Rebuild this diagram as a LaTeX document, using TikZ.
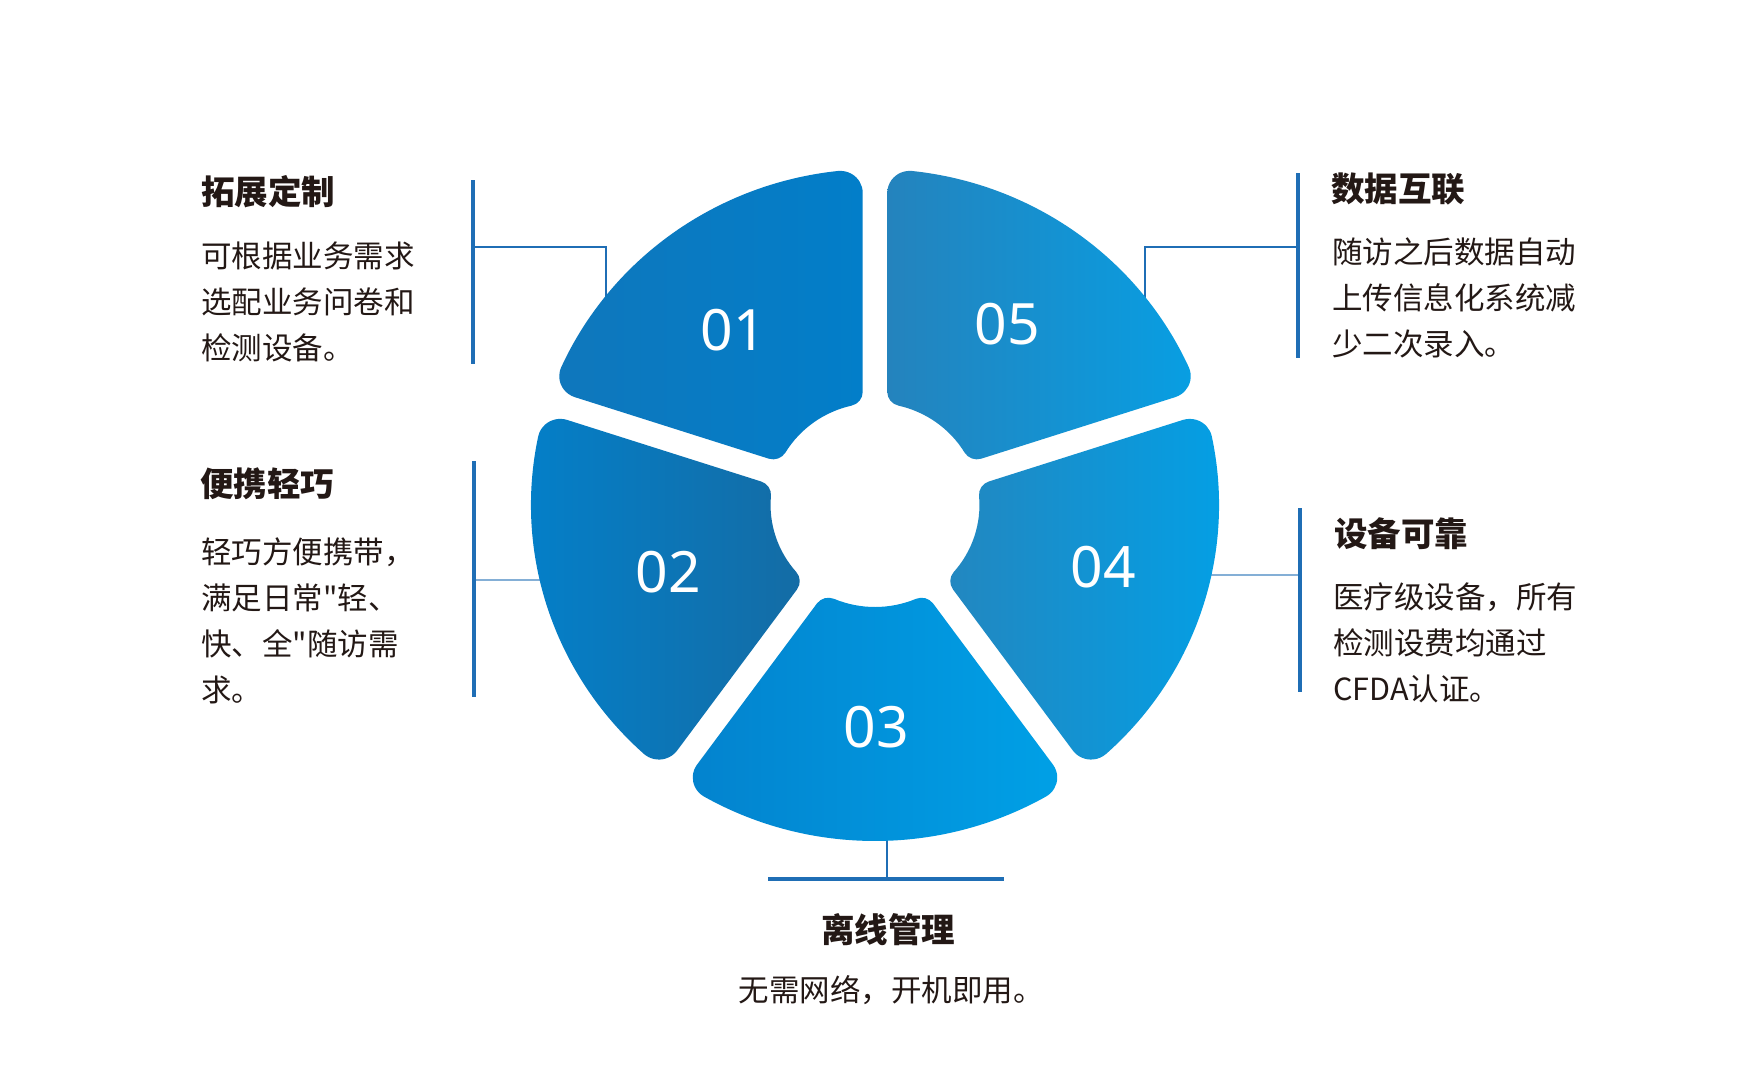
\documentclass[tikz,border=0pt]{standalone}
\usepackage{fontspec}
\usetikzlibrary{calc}
\newfontfamily\cjk{Noto Sans CJK SC}
\newfontfamily\numfont{Noto Sans}

\definecolor{linkblue}{RGB}{31,110,181}
\definecolor{inkdark}{RGB}{35,24,21}
\definecolor{c01a}{RGB}{15,119,188}
\definecolor{c01b}{RGB}{2,126,201}
\definecolor{c02a}{RGB}{3,128,202}
\definecolor{c02b}{RGB}{20,108,165}
\definecolor{c03a}{RGB}{3,131,206}
\definecolor{c03b}{RGB}{0,160,230}
\definecolor{c04a}{RGB}{34,135,192}
\definecolor{c04b}{RGB}{2,160,230}
\definecolor{c05a}{RGB}{36,131,189}
\definecolor{c05b}{RGB}{8,158,226}

\tikzstyle{heading}=[inner sep=0pt,anchor=north west,text=inkdark,font=\cjk\bfseries\fontsize{33.5}{40}\selectfont]
\tikzstyle{blurb}=[inner sep=0pt,anchor=north west,align=left,text=inkdark,font=\cjk\fontsize{30.5}{46}\selectfont]
\tikzstyle{number}=[inner sep=0pt,text=white,font=\numfont\fontsize{57}{60}\selectfont]
\tikzstyle{bar}=[draw=linkblue,line width=4.5pt]
\tikzstyle{link}=[draw=linkblue,line width=1.3pt]

% ring sizes
\def\Rout{336}
\def\Rin{102}
\def\halfgap{12}
\def\filo{22}
\def\fili{14}

% one rounded ring piece: #1 centre angle, #2 shading
\newcommand\petal[2]{%
  \pgfmathsetmacro\aone{#1-36}%
  \pgfmathsetmacro\atwo{#1+36}%
  \pgfmathsetmacro\dout{asin((\halfgap+\filo)/(\Rout-\filo))}%
  \pgfmathsetmacro\din{asin((\halfgap+\fili)/(\Rin+\fili))}%
  \shade[#2] (\aone+\dout:\Rout)
    arc[start angle=\aone+\dout, end angle=\atwo-\dout, radius=\Rout]
    arc[start angle=\atwo-\dout, end angle=\atwo+90, radius=\filo]
    -- ($(\atwo-\din:\Rin+\fili)+(\atwo+90:\fili)$)
    arc[start angle=\atwo+90, end angle=\atwo-\din+180, radius=\fili]
    arc[start angle=\atwo-\din, end angle=\aone+\din, radius=\Rin]
    arc[start angle=\aone+\din+180, end angle=\aone+270, radius=\fili]
    -- ($(\aone+\dout:\Rout-\filo)+(\aone-90:\filo)$)
    arc[start angle=\aone+270, end angle=\aone+\dout+360, radius=\filo]
    -- cycle;}

\begin{document}
\begin{tikzpicture}[x=1pt,y=-1pt]
        \fill[white] (0,0) rectangle (1741,1072);
        \useasboundingbox (0,0) rectangle (1741,1072);

        % connectors
        \coordinate (bar1-top) at (473,180);  \coordinate (bar1-end) at (473,364);
        \coordinate (bar2-top) at (474,461);  \coordinate (bar2-end) at (474,697);
        \coordinate (bar3-top) at (768,879);  \coordinate (bar3-end) at (1004,879);
        \coordinate (bar4-top) at (1300,508); \coordinate (bar4-end) at (1300,692);
        \coordinate (bar5-top) at (1298,173); \coordinate (bar5-end) at (1298,358);
        \coordinate (k1) at (473,247);  \coordinate (p1) at (606,400);
        \coordinate (k2) at (474,580);  \coordinate (p2) at (600,580);
        \coordinate (k3) at (887,879);  \coordinate (p3) at (887,800);
        \coordinate (k4) at (1300,575); \coordinate (p4) at (1150,575);
        \coordinate (k5) at (1298,247); \coordinate (p5) at (1145,400);
        \draw[link] (k1) -| (p1);
        \draw[link] (k5) -| (p5);
        \draw[link,draw=linkblue!55] (k2) -- (p2);
        \draw[link,draw=linkblue!55] (k4) -- (p4);
        \draw[link] (k3) -- (p3);
        \foreach \i in {1,...,5}
            \draw[bar] (bar\i-top) -- (bar\i-end);

        % ring
        \begin{scope}[shift={(875,505)},xscale=1.024,yscale=-1]
            \petal{126}{left color=c01a,right color=c01b}
            \petal{198}{left color=c02a,right color=c02b}
            \petal{270}{left color=c03a,right color=c03b}
            \petal{342}{left color=c04a,right color=c04b}
            \petal{54}{left color=c05a,right color=c05b}
        \end{scope}

        % numbers
        \node[number] (n1) at (733,330) {01};
        \node[number] (n2) at (668,572) {02};
        \node[number] (n3) at (876,727) {03};
        \node[number] (n4) at (1103,567) {04};
        \node[number] (n5) at (1007,324) {05};

        % texts
        \node[heading] (t1) at (201,175) {拓展定制};
        \node[blurb] (d1) at (201,242) {可根据业务需求\\选配业务问卷和\\检测设备。};
        \node[heading] (t2) at (200,467) {便携轻巧};
        \node[blurb] (d2) at (201,537) {轻巧方便携带，\\满足日常"轻、\\快、全"随访需\\求。};
        \node[heading,anchor=north] (t3) at (888,913) {离线管理};
        \node[blurb,anchor=north] (d3) at (891,975) {无需网络，开机即用。};
        \node[heading] (t4) at (1334,517) {设备可靠};
        \node[blurb] (d4) at (1333,583) {医疗级设备，所有\\检测设费均通过\\CFDA认证。};
        \node[heading] (t5) at (1331,173) {数据互联};
        \node[blurb] (d5) at (1332,238) {随访之后数据自动\\上传信息化系统减\\少二次录入。};
    \end{tikzpicture}
\end{document}
